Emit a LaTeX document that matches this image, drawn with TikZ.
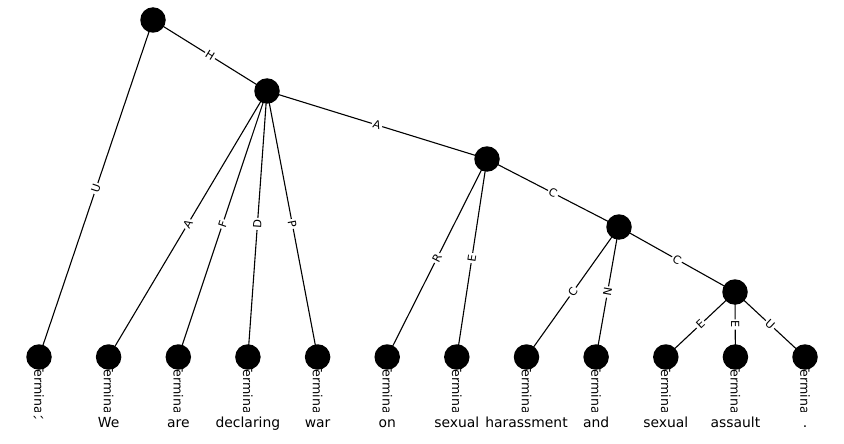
\documentclass[tikz,border=0pt]{standalone}
\usepackage{fontspec}
\setmainfont{DejaVu Sans}
\begin{document}
\begin{tikzpicture}[x=1pt,y=-1pt,
  dot/.style={circle,fill=black,draw=none,minimum size=25.5pt,inner sep=0pt},
  elabel/.style={sloped,midway,fill=white,inner sep=1.5pt,font=\fontsize{11.2}{13}\selectfont},
  term/.style={anchor=north,inner sep=0pt,font=\fontsize{12.6}{14}\selectfont},
  word/.style={anchor=base,inner sep=0pt,font=\fontsize{13.9}{16}\selectfont},
  edge/.style={draw=black,line width=1.1pt}]
\useasboundingbox (0,0) rectangle (844,444);
% internal node positions
\coordinate (r) at (153,20);
\coordinate (n2) at (267,91);
\coordinate (n3) at (487,159);
\coordinate (n4) at (619,227);
\coordinate (n5) at (735,292);
\foreach \i/\x in {1/39,2/108.6,3/178.3,4/247.9,5/317.6,6/387.2,7/456.8,8/526.5,9/596.1,10/665.8,11/735.4,12/805}{
  \coordinate (l\i) at (\x,357);
}
% edges
\draw[edge] (r) -- node[elabel]{U} (l1);
\draw[edge] (r) -- node[elabel]{H} (n2);
\draw[edge] (n2) -- node[elabel]{A} (l2);
\draw[edge] (n2) -- node[elabel]{F} (l3);
\draw[edge] (n2) -- node[elabel]{D} (l4);
\draw[edge] (n2) -- node[elabel]{P} (l5);
\draw[edge] (n2) -- node[elabel]{A} (n3);
\draw[edge] (n3) -- node[elabel]{R} (l6);
\draw[edge] (n3) -- node[elabel]{E} (l7);
\draw[edge] (n3) -- node[elabel]{C} (n4);
\draw[edge] (n4) -- node[elabel]{C} (l8);
\draw[edge] (n4) -- node[elabel]{N} (l9);
\draw[edge] (n4) -- node[elabel]{C} (n5);
\draw[edge] (n5) -- node[elabel]{E} (l10);
\draw[edge] (n5) -- node[elabel]{E} (l11);
\draw[edge] (n5) -- node[elabel]{U} (l12);
% terminal labels (clipped)
\begin{scope}
\clip (0,340) rectangle (844,411.5);
\foreach \i/\x in {1/39,2/108.6,3/178.3,4/247.9,5/317.6,6/387.2,7/456.8,8/526.5,9/596.1,10/665.8,11/735.4,12/805}{
  \node[term] (t\i) at (\x,364) {\rotatebox{-90}{Terminal}};
}
\end{scope}
% dots
\foreach \c in {r,n2,n3,n4,n5,l1,l2,l3,l4,l5,l6,l7,l8,l9,l10,l11,l12}{
  \node[dot] (d\c) at (\c) {};
}
% words
\node[word] (w1) at (39,427) {\textasciigrave\textasciigrave};
\node[word] (w2) at (108.6,427) {We};
\node[word] (w3) at (178.3,427) {are};
\node[word] (w4) at (247.9,427) {declaring};
\node[word] (w5) at (317.6,427) {war};
\node[word] (w6) at (387.2,427) {on};
\node[word] (w7) at (456.8,427) {sexual};
\node[word] (w8) at (526.5,427) {harassment};
\node[word] (w9) at (596.1,427) {and};
\node[word] (w10) at (665.8,427) {sexual};
\node[word] (w11) at (735.4,427) {assault};
\node[word] (w12) at (805,427) {.};
\end{tikzpicture}
\end{document}
